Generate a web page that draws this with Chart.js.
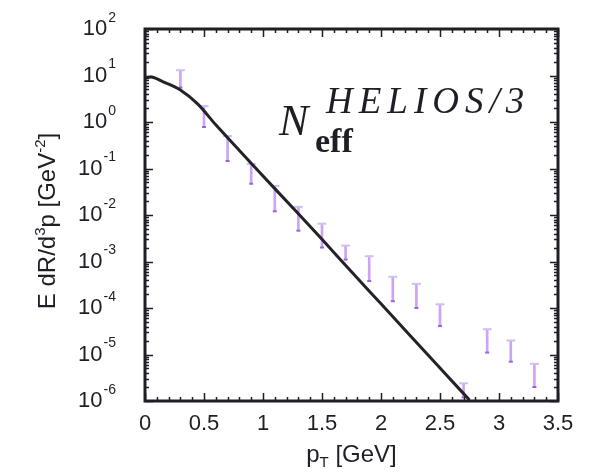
<!DOCTYPE html>
<html>
<head>
<meta charset="utf-8">
<script src="https://cdn.jsdelivr.net/npm/chart.js@4.4.1/dist/chart.umd.min.js"></script>
<style>
  html, body { margin: 0; padding: 0; background: #fff; }
  #wrap { width: 594px; height: 472px; }
</style>
</head>
<body>
<div id="wrap"><canvas id="c" width="594" height="472"></canvas></div>
<script>
// Thermal photon rate curve (N_eff HELIOS/3)
const curvePt = [0, 0.05, 0.15, 0.3, 0.45, 0.6, 0.8, 1.0, 1.25, 1.5, 1.75, 2.0, 2.25, 2.5, 2.75];
const curveRate = [8.8, 9.3, 7.4, 4.9, 2.4, 0.87, 0.245, 0.069, 0.0145, 0.003, 6.0e-4, 1.23e-4, 2.5e-5, 5.1e-6, 1.05e-6];

// Measured points shown as error bars (lower / upper ends)
const dataPt = [0.3, 0.5, 0.7, 0.9, 1.1, 1.3, 1.5, 1.7, 1.9, 2.1, 2.3, 2.5, 2.7, 2.9, 3.1, 3.3];
const dataLow = [5.5, 0.78, 0.145, 0.047, 0.012, 0.0046, 0.002, 0.0011, 3.8e-4, 1.4e-4, 1.0e-4, 4.1e-5, 1.2e-6, 1.1e-5, 7e-6, 2e-6];
const dataHigh = [13, 2.2, 0.5, 0.125, 0.042, 0.015, 0.0065, 0.0022, 1.3e-3, 4.7e-4, 3.3e-4, 1.2e-4, 2.4e-6, 3.5e-5, 2e-5, 6.3e-6];

// Axis ticks
const xTickValues = [0, 0.5, 1, 1.5, 2, 2.5, 3, 3.5];
const xTickLabels = ['0', '0.5', '1', '1.5', '2', '2.5', '3', '3.5'];
const yExponents = [2, 1, 0, -1, -2, -3, -4, -5, -6];

const INK = '#1e1e24';
const SANS = '"Liberation Sans", Arial, sans-serif';
const SERIF = '"Liberation Serif", "Times New Roman", serif';

// Draw a sequence of text pieces (font / vertical shift) starting at x
function drawRuns(ctx, parts, x, y, align) {
  let total = 0;
  parts.forEach(p => { ctx.font = p.font; p.w = ctx.measureText(p.t).width + (p.gap || 0); total += p.w; });
  let cx = align === 'center' ? x - total / 2 : align === 'right' ? x - total : x;
  parts.forEach(p => {
    ctx.font = p.font;
    ctx.fillText(p.t, cx, y + (p.dy || 0));
    cx += p.w;
  });
}

const axesPlugin = {
  id: 'axesPlugin',
  afterDatasetDraw(chart, args) {
    if (args.index !== 1) return;
    const { ctx, scales: { x, y } } = chart;
    ctx.save();
    ctx.lineWidth = 2;
    dataPt.forEach((v, i) => {
      const px = x.getPixelForValue(v);
      const top = y.getPixelForValue(dataHigh[i]);
      const bot = y.getPixelForValue(dataLow[i]);
      ctx.strokeStyle = '#d2bdf6';
      ctx.beginPath(); ctx.moveTo(px - 4.5, top); ctx.lineTo(px + 4.5, top); ctx.stroke();
      ctx.strokeStyle = '#9468d8';
      ctx.beginPath(); ctx.moveTo(px - 2, bot); ctx.lineTo(px + 2, bot); ctx.stroke();
    });
    ctx.restore();
  },
  afterDraw(chart) {
    const { ctx, chartArea: a, scales: { x, y } } = chart;
    ctx.save();
    ctx.strokeStyle = INK;
    ctx.lineWidth = 1.5;
    // x ticks (inside, bottom and top)
    for (let i = 0; i <= 35; i++) {
      const px = Math.round(x.getPixelForValue(i / 10)) + 0.5;
      const len = i % 5 === 0 ? 8 : 4;
      ctx.beginPath();
      ctx.moveTo(px, a.bottom); ctx.lineTo(px, a.bottom - len);
      ctx.moveTo(px, a.top); ctx.lineTo(px, a.top + len);
      ctx.stroke();
    }
    // y ticks (inside, left and right)
    for (let e = -6; e <= 2; e++) {
      const mults = e < 2 ? [1, 2, 3, 4, 5, 6, 7, 8, 9] : [1];
      mults.forEach(m => {
        const py = Math.round(y.getPixelForValue(m * Math.pow(10, e))) + 0.5;
        const len = m === 1 ? 8 : 4;
        ctx.beginPath();
        ctx.moveTo(a.left, py); ctx.lineTo(a.left + len, py);
        ctx.moveTo(a.right, py); ctx.lineTo(a.right - len, py);
        ctx.stroke();
      });
    }
    // frame
    ctx.lineWidth = 3;
    ctx.strokeRect(a.left, a.top, a.right - a.left, a.bottom - a.top);

    ctx.fillStyle = INK;
    // x tick labels
    ctx.textBaseline = 'middle';
    ctx.textAlign = 'center';
    ctx.font = '22px ' + SANS;
    xTickValues.forEach((v, i) => {
      ctx.fillText(xTickLabels[i], x.getPixelForValue(v), a.bottom + 23);
    });
    // y tick labels: 10 with raised exponent
    ctx.textAlign = 'left';
    yExponents.forEach(e => {
      const py = y.getPixelForValue(Math.pow(10, e));
      const ex = e < 0 ? '-' + (-e) : String(e);
      drawRuns(ctx, [
        { t: '10', font: '22px ' + SANS, gap: 1 },
        { t: ex, font: '14px ' + SANS, dy: -11 }
      ], 116, py, 'right');
    });
    // x title: p_T [GeV]
    ctx.textBaseline = 'alphabetic';
    drawRuns(ctx, [
      { t: 'p', font: '24px ' + SANS },
      { t: 'T', font: '15px ' + SANS, dy: 5 },
      { t: ' [GeV]', font: '24px ' + SANS }
    ], (a.left + a.right) / 2, 462, 'center');
    // y title: E dR/d^3p [GeV^-2]
    ctx.save();
    ctx.translate(55, 221);
    ctx.rotate(-Math.PI / 2);
    drawRuns(ctx, [
      { t: 'E dR/d', font: '24px ' + SANS },
      { t: '3', font: '15px ' + SANS, dy: -10 },
      { t: 'p [GeV', font: '24px ' + SANS },
      { t: '-2', font: '15px ' + SANS, dy: -10 },
      { t: ']', font: '24px ' + SANS }
    ], 0, 0, 'center');
    ctx.restore();
    // annotation N_eff^{HELIOS/3}
    ctx.font = 'italic 44px ' + SERIF;
    ctx.fillText('N', 279, 135);
    ctx.font = 'italic 37px ' + SERIF;
    let hx = 326;
    'HELIOS/3'.split('').forEach(ch => {
      ctx.fillText(ch, hx, 113);
      hx += ctx.measureText(ch).width + 6;
    });
    ctx.font = 'bold 34px ' + SERIF;
    ctx.fillText('eff', 315, 152);
    ctx.restore();
  }
};

new Chart(document.getElementById('c'), {
  data: {
    datasets: [
      {
        type: 'line',
        data: curvePt.map((v, i) => ({ x: v, y: curveRate[i] })),
        borderColor: '#222228',
        borderWidth: 3,
        pointRadius: 0,
        cubicInterpolationMode: 'monotone',
        order: 0
      },
      {
        type: 'bar',
        data: dataPt.map((v, i) => ({ x: v, y: [dataLow[i], dataHigh[i]] })),
        backgroundColor: '#cba4f2',
        barThickness: 2,
        borderWidth: 0,
        grouped: false,
        order: 1
      }
    ]
  },
  options: {
    responsive: false,
    animation: false,
    devicePixelRatio: 1,
    layout: { padding: { left: 145, right: 36, top: 29, bottom: 71 } },
    plugins: { legend: { display: false }, tooltip: { enabled: false } },
    scales: {
      x: { type: 'linear', min: 0, max: 3.5, offset: false, display: false },
      y: { type: 'logarithmic', min: 1e-6, max: 100, display: false }
    }
  },
  plugins: [axesPlugin]
});
</script>
</body>
</html>
